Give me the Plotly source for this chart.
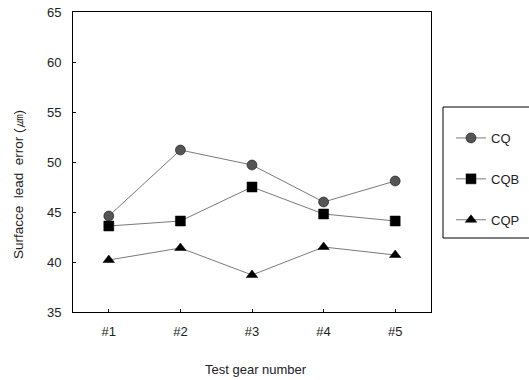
import plotly.graph_objects as go

# Surface lead error per test gear for three finishing processes
gears = ["#1", "#2", "#3", "#4", "#5"]
cq = [44.6, 51.2, 49.7, 46.0, 48.1]
cqb = [43.6, 44.1, 47.5, 44.8, 44.1]
cqp = [40.2, 41.4, 38.7, 41.5, 40.7]

font_family = "Liberation Sans, Arial, sans-serif"
text_color = "#222222"
NB = "\u00a0"

series = [
    ("CQ", cq, "circle", "#555555", 10),
    ("CQB", cqb, "square", "#000000", 10),
    ("CQP", cqp, "triangle-up", "#000000", 10),
]

fig = go.Figure()
for name, vals, sym, mcol, msize in series:
    fig.add_trace(go.Scatter(
        x=gears, y=vals, name=name, mode="lines+markers",
        legendgroup=name,
        line=dict(color="#7a7a7a", width=1),
        marker=dict(symbol=sym, size=msize, color=mcol,
                    line=dict(color="#000000", width=0.5)),
    ))

axis_common = dict(
    showgrid=False, zeroline=False, showline=True, linecolor="#000000",
    linewidth=1, mirror=True, ticks="inside", ticklen=3, tickcolor="#000000",
    tickfont=dict(family=font_family, size=13, color=text_color),
)

# Page layout in pixels: the chart frame sits on the left, the legend on the right
W, H = 529, 380
paper_l, paper_t, paper_b = 73, 12, 312
frame_r = 431
pw, ph = W - paper_l, paper_b - paper_t


def px_x(x):
    return (x - paper_l) / pw


def px_y(y):
    return (paper_b - y) / ph


fig.update_layout(
    width=W, height=H,
    margin=dict(l=paper_l, r=0, t=paper_t, b=H - paper_b),
    paper_bgcolor="white", plot_bgcolor="white",
    font=dict(family=font_family, color=text_color),
    xaxis=dict(**axis_common, type="category", range=[-0.5, 4.5],
               domain=[0, px_x(frame_r)], ticklabelstandoff=7),
    yaxis=dict(**axis_common, range=[35, 65], dtick=5,
               ticklabelstandoff=8),
    legend=dict(
        x=px_x(451), xanchor="left", y=px_y(123), yanchor="top",
        bgcolor="rgba(0,0,0,0)", borderwidth=0,
        tracegroupgap=21, itemwidth=30,
        font=dict(family=font_family, size=13, color=text_color),
    ),
    showlegend=True,
)

# Axis titles
fig.add_annotation(text="Test gear number", xref="paper", yref="paper",
                   x=px_x(256), y=px_y(369),
                   xanchor="center", yanchor="middle", showarrow=False,
                   font=dict(family=font_family, size=13, color=text_color))
fig.add_annotation(text=f"Surfacce{NB}{NB}lead{NB}{NB}error{NB}(㎛)",
                   xref="paper", yref="paper",
                   x=px_x(18), y=px_y(185),
                   xanchor="center", yanchor="middle", textangle=-90,
                   showarrow=False,
                   font=dict(family=font_family, size=13.5, color=text_color))

# Legend frame, running past the right edge of the page
fig.add_shape(type="rect", xref="paper", yref="paper",
              x0=px_x(443), x1=px_x(560),
              y0=px_y(238), y1=px_y(107),
              line=dict(color="#000000", width=1), fillcolor="rgba(0,0,0,0)")

fig.write_html("out.html")
